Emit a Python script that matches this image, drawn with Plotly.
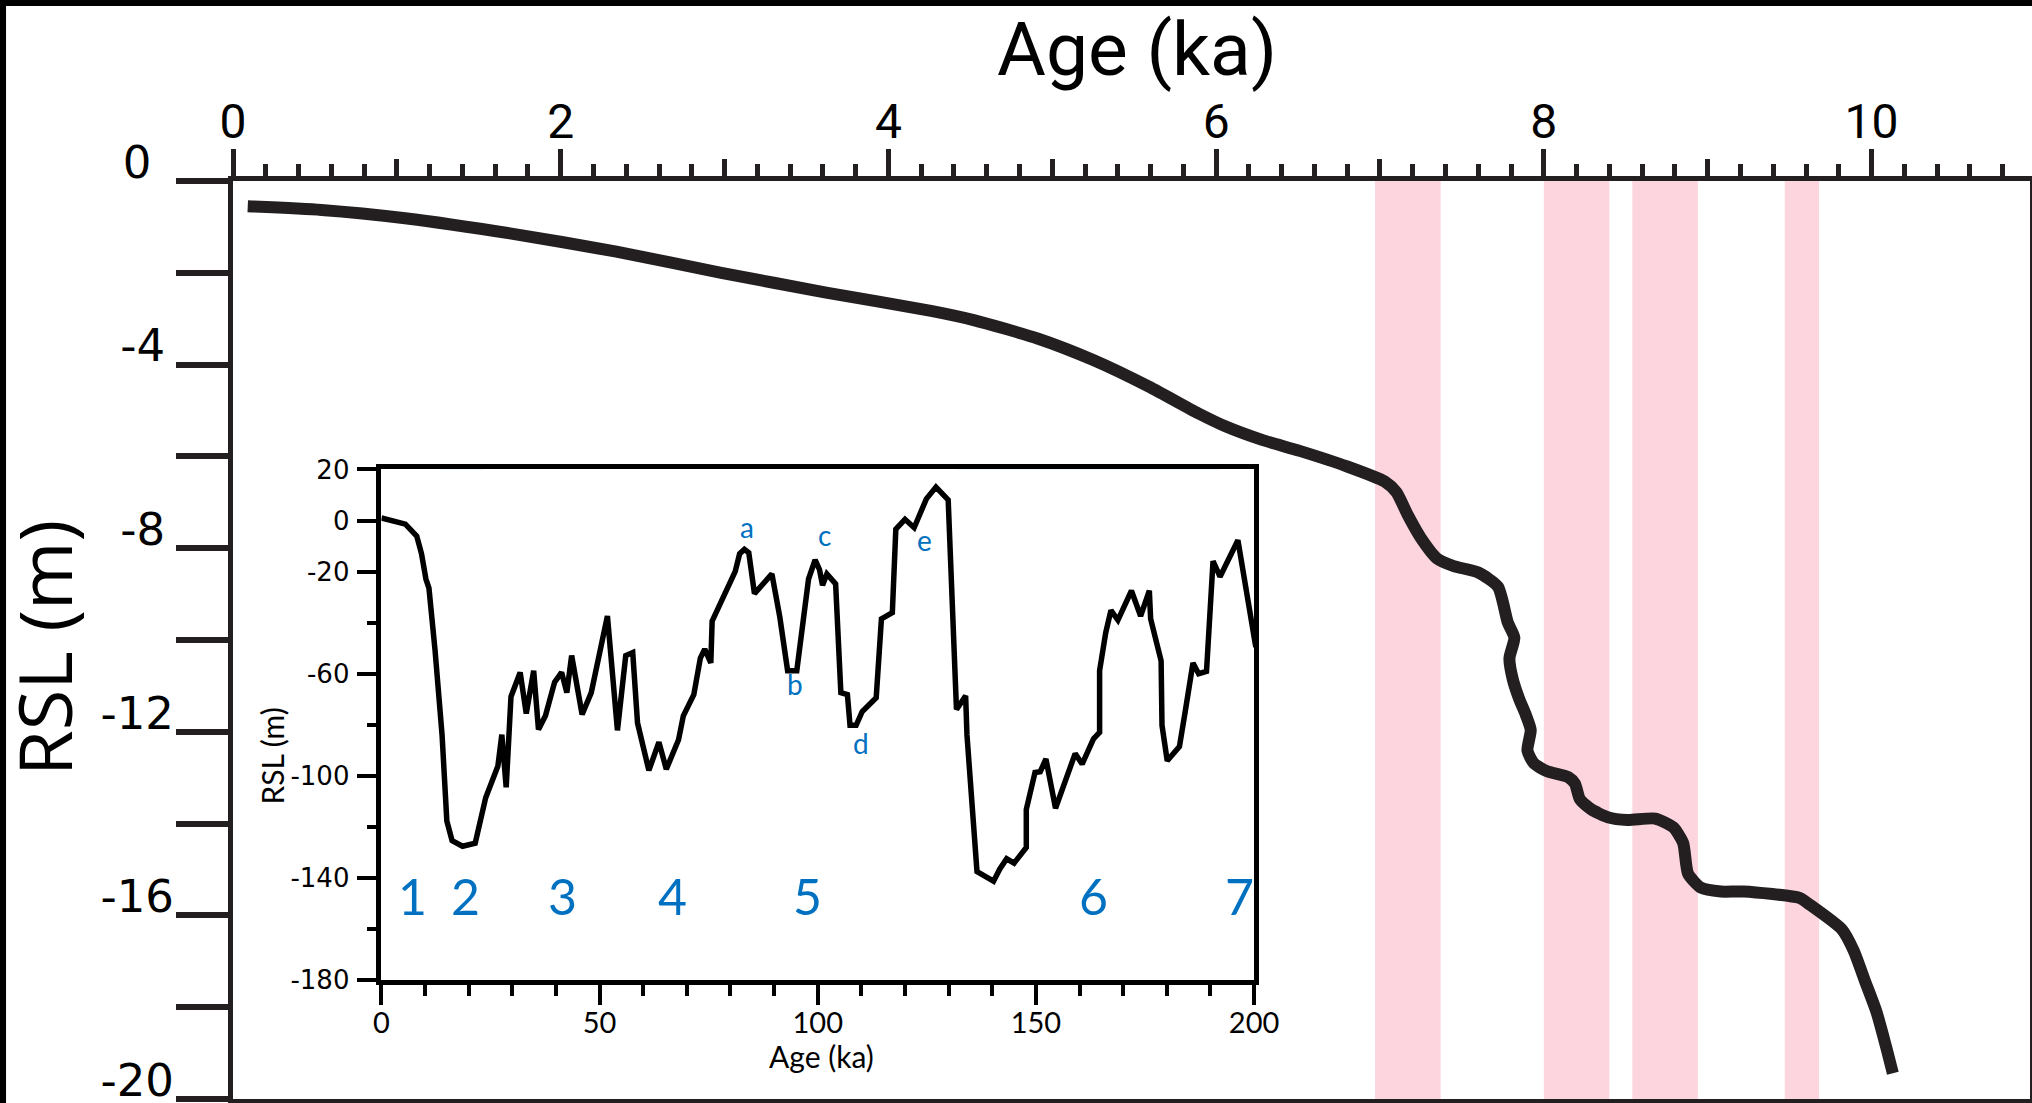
import plotly.graph_objects as go

# ---------------- data ----------------
# Main curve: relative sea level (m) vs age (ka)
main_age = [0.09, 0.54, 1.05, 1.69, 2.34, 2.98, 3.62, 4.26, 4.52, 4.91,
            5.25, 5.59, 5.89, 6.06, 6.28, 6.51, 6.80, 7.03, 7.10, 7.17,
            7.25, 7.35, 7.45, 7.60, 7.72, 7.78, 7.82, 7.79, 7.81, 7.85,
            7.89, 7.92, 7.90, 7.94, 8.02, 8.15, 8.19, 8.22, 8.29, 8.39,
            8.51, 8.68, 8.79, 8.85, 8.88, 8.96, 9.08, 9.22, 9.56, 9.62,
            9.82, 9.89, 9.96, 10.03, 10.09, 10.13]
main_rsl = [-0.55, -0.63, -0.81, -1.14, -1.54, -2.00, -2.43, -2.83, -3.03, -3.43,
            -3.90, -4.48, -5.06, -5.35, -5.64, -5.88, -6.22, -6.55, -6.78, -7.28,
            -7.78, -8.23, -8.39, -8.53, -8.84, -9.62, -9.95, -10.40, -10.85, -11.29,
            -11.63, -11.96, -12.41, -12.69, -12.86, -12.99, -13.13, -13.47, -13.69, -13.86,
            -13.92, -13.89, -14.08, -14.42, -15.09, -15.40, -15.48, -15.48, -15.62, -15.76,
            -16.31, -16.76, -17.43, -18.10, -18.88, -19.44]

# Pink shaded intervals (ka)
pink_start = [6.97, 8.00, 8.54, 9.47]
pink_end = [7.37, 8.40, 8.94, 9.68]

# Inset: RSL over the last 200 ka
inset_age = [0, 5.5, 8.1, 9.2, 10.2, 10.9, 12.3, 13.9, 15.0, 16.2,
             18.6, 21.5, 23.9, 26.7, 27.6, 28.6, 29.7, 31.8, 33.2, 34.9,
             36.0, 37.6, 39.7, 41.3, 42.5, 43.6, 46.0, 48.1, 51.8, 54.1,
             56.0, 57.6, 58.7, 61.3, 63.6, 65.3, 68.1, 69.2, 71.6, 73.1,
             74.1, 75.5, 75.8, 78.1, 81.1, 82.1, 83.2, 84.2, 85.5, 89.5,
             91.3, 93.1, 95.2, 97.9, 99.4, 100.4, 101.1, 102.1, 104.1, 105.3,
             106.8, 107.4, 108.8, 110.2, 113.4, 114.6, 117.1, 117.9, 120.0, 122.1,
             124.9, 127.1, 129.9, 131.8, 133.9, 134.2, 136.5, 140.3, 141.7, 143.3,
             145.0, 147.8, 147.8, 149.8, 151.0, 152.3, 154.5, 159.0, 160.6, 163.2,
             164.6, 164.6, 166.0, 167.2, 168.8, 171.9, 174.0, 176.0, 176.3, 178.7,
             178.9, 180.1, 182.9, 184.3, 186.0, 187.3, 189.1, 190.6, 192.2, 196.3,
             200.4]
inset_rsl = [1.0, -1.4, -6.1, -13.0, -22.9, -26.5, -50.9, -83.9, -117.7, -125.4,
             -127.6, -126.4, -108.6, -96.2, -83.9, -104.5, -69.0, -59.5, -75.6, -58.8,
             -81.9, -76.5, -63.3, -59.5, -67.4, -52.9, -76.0, -67.4, -37.4, -82.2,
             -52.9, -51.7, -79.3, -97.9, -86.8, -97.4, -85.9, -76.5, -68.2, -53.9,
             -50.4, -55.8, -39.4, -31.4, -19.9, -13.0, -11.3, -12.6, -28.6, -20.9,
             -37.7, -58.8, -58.8, -22.9, -15.4, -19.2, -25.3, -20.9, -24.8, -67.4,
             -68.2, -80.2, -80.2, -74.8, -69.4, -38.5, -36.1, -3.4, 0.5, -2.8,
             8.5, 13.1, 8.1, -74.0, -68.7, -83.9, -137.5, -141.3, -136.6, -132.5,
             -134.2, -128.1, -113.2, -98.7, -98.4, -93.4, -112.7, -91.3, -95.4, -85.5,
             -83.0, -58.8, -44.0, -35.2, -39.0, -27.5, -37.4, -27.5, -38.5, -55.0,
             -80.2, -94.1, -88.5, -74.0, -55.8, -60.0, -59.1, -15.9, -22.0, -7.7,
             -49.6]

# Inset blue intervals (ka) = glacial stages
blue_start = [13.6, 132.0]
blue_end = [23.4, 192.3]

# Marine isotope stage labels
stage_text = ["1", "2", "3", "4", "5", "6", "7"]
stage_age = [7.1, 19.2, 41.6, 66.8, 97.6, 163.2, 196.6]
stage_rsl = [-147, -147, -147, -147, -147, -147, -147]

# Sub-stage letters
sub_text = ["a", "b", "c", "d", "e"]
sub_age = [83.9, 94.7, 101.6, 109.9, 124.5]
sub_rsl = [-2.4, -64.2, -5.7, -87.3, -7.8]

# Tick labels
main_x_ticks = [0, 2, 4, 6, 8, 10]
main_x_mid_ticks = [1, 3, 5, 7, 9]
main_y_ticks = [0, -2, -4, -6, -8, -10, -12, -14, -16, -18, -20]
main_y_labels = ["0\u2002", "", "-4\u2009", "", "-8\u2009", "", "-12", "", "-16", "", "-20"]
inset_x_ticks = [0, 50, 100, 150, 200]
inset_y_ticks = [20, 0, -20, -60, -100, -140, -180]
inset_y_labels = ["20", "0", "-20", "-60", "-100", "-140", "-180"]

assert len(main_age) == len(main_rsl)
assert len(inset_age) == len(inset_rsl)

INK = "#231f20"
BLUE_TXT = "#0070c0"
X_MAX = 10.967

fig = go.Figure()

fig.add_trace(go.Scatter(
    x=main_age, y=main_rsl, mode="lines", xaxis="x", yaxis="y",
    line=dict(color=INK, width=12, shape="spline", smoothing=0.6),
    hoverinfo="x+y", showlegend=False))

# helper (empty) trace so the mid-tick overlay axis is rendered
fig.add_trace(go.Scatter(x=[], y=[], xaxis="x3", yaxis="y",
                         hoverinfo="skip", showlegend=False))

fig.add_trace(go.Scatter(
    x=inset_age, y=inset_rsl, mode="lines", xaxis="x2", yaxis="y2",
    line=dict(color="black", width=5.5),
    hoverinfo="x+y", showlegend=False))

shapes = []
for a, b in zip(pink_start, pink_end):
    shapes.append(dict(type="rect", xref="x", yref="y", x0=a, x1=b, y0=-20, y1=0,
                       fillcolor="#fcd5de", line=dict(width=0), layer="below"))
for a, b in zip(blue_start, blue_end):
    shapes.append(dict(type="rect", xref="x2", yref="y2 domain", x0=a, x1=b, y0=0, y1=1,
                       fillcolor="#b0d8f7", line=dict(width=0), layer="below"))
# outer picture frame (top and left bands)
shapes.append(dict(type="rect", xref="paper", yref="paper", x0=-0.1308, x1=1.003,
                   y0=1.1906, y1=1.2000, fillcolor="black", line=dict(width=0)))
shapes.append(dict(type="rect", xref="paper", yref="paper", x0=-0.1308, x1=-0.1263,
                   y0=-0.0070, y1=1.2000, fillcolor="black", line=dict(width=0)))

annotations = [
    dict(text="Age (ka)", xref="paper", yref="paper", x=0.5031, y=1.1438,
         xanchor="center", yanchor="middle", showarrow=False,
         font=dict(family="Roboto", size=75, color="black")),
    dict(text="RSL (m)", xref="paper", yref="paper", x=-0.1052, y=0.4913,
         xanchor="center", yanchor="middle", showarrow=False, textangle=-90,
         font=dict(family="Open Sans", size=74, color="black")),
    dict(text="Age (ka)", xref="x2 domain", yref="y2 domain", x=0.5038, y=-0.1480,
         xanchor="center", yanchor="middle", showarrow=False,
         font=dict(family="Lato", size=30, color="black")),
    dict(text="RSL (m)", xref="x2 domain", yref="y2 domain", x=-0.1254, y=0.4396,
         xanchor="center", yanchor="middle", showarrow=False, textangle=-90,
         font=dict(family="Lato", size=30, color="black")),
]
for t, a, r in zip(stage_text, stage_age, stage_rsl):
    annotations.append(dict(text=t, xref="x2", yref="y2", x=a, y=r, showarrow=False,
                            xanchor="center", yanchor="middle",
                            font=dict(family="Lato", size=50, color=BLUE_TXT)))
for t, a, r in zip(sub_text, sub_age, sub_rsl):
    annotations.append(dict(text=t, xref="x2", yref="y2", x=a, y=r, showarrow=False,
                            xanchor="center", yanchor="middle",
                            font=dict(family="Lato", size=28, color=BLUE_TXT)))

fig.update_layout(
    width=2032, height=1103,
    margin=dict(l=233, r=2, t=181, b=4, pad=0, autoexpand=False),
    paper_bgcolor="white", plot_bgcolor="white",
    showlegend=False,
    shapes=shapes, annotations=annotations,
    xaxis=dict(domain=[0, 1], range=[0, X_MAX], side="top", anchor="y",
               automargin=False,
               showline=True, linewidth=5, linecolor=INK, mirror=True,
               ticks="outside", tickvals=main_x_ticks,
               ticktext=[str(v) for v in main_x_ticks],
               ticklen=27, tickwidth=5, tickcolor=INK,
               minor=dict(dtick=0.2, tick0=0, ticks="outside", ticklen=12,
                          tickwidth=5, tickcolor=INK, showgrid=False),
               tickfont=dict(family="Roboto", size=48, color="black"),
               ticklabelstandoff=-8, ticklabeloverflow="allow",
               showgrid=False, zeroline=False, fixedrange=True),
    xaxis3=dict(overlaying="x", side="top", anchor="y", range=[0, X_MAX],
                automargin=False,
                ticks="outside", tickvals=main_x_mid_ticks, ticklen=21, tickwidth=5,
                tickcolor=INK, showticklabels=False, showline=False,
                showgrid=False, zeroline=False, fixedrange=True),
    yaxis=dict(domain=[0, 1], range=[-20, 0], anchor="x", side="left",
               automargin=False,
               showline=True, linewidth=5, linecolor=INK, mirror=True,
               ticks="outside", tickvals=main_y_ticks, ticktext=main_y_labels,
               ticklen=52, tickwidth=6, tickcolor=INK,
               tickfont=dict(family="DejaVu Sans", size=45, color="black"),
               ticklabelshift=-19, ticklabelstandoff=-7, ticklabeloverflow="allow",
               showgrid=False, zeroline=False, fixedrange=True),
    xaxis2=dict(domain=[0.08258, 0.5682], range=[0, 200], anchor="y2",
                automargin=False,
                showline=True, linewidth=4.5, linecolor="black", mirror=True,
                ticks="outside", tickvals=inset_x_ticks, ticklen=20, tickwidth=3.5,
                tickcolor="black",
                minor=dict(dtick=10, tick0=0, ticks="outside", ticklen=11,
                           tickwidth=3.5, tickcolor="black", showgrid=False),
                tickfont=dict(family="Lato", size=29, color="black"),
                ticklabelstandoff=-7, ticklabeloverflow="allow",
                showgrid=False, zeroline=False, fixedrange=True),
    yaxis2=dict(domain=[0.12963, 0.68573], range=[-180, 20], anchor="x2",
                automargin=False,
                showline=True, linewidth=4.5, linecolor="black", mirror=True,
                ticks="outside", tickvals=inset_y_ticks, ticktext=inset_y_labels,
                ticklen=20, tickwidth=3.5, tickcolor="black",
                minor=dict(dtick=20, tick0=0, ticks="outside", ticklen=10,
                           tickwidth=3.5, tickcolor="black", showgrid=False),
                tickfont=dict(family="DejaVu Sans", size=26, color="black"),
                ticklabelstandoff=2, ticklabeloverflow="allow",
                showgrid=False, zeroline=False, fixedrange=True),
)

fig.write_html("out.html", config={"displayModeBar": False},
               post_script="document.body.style.margin='0';document.body.style.overflow='hidden';")
